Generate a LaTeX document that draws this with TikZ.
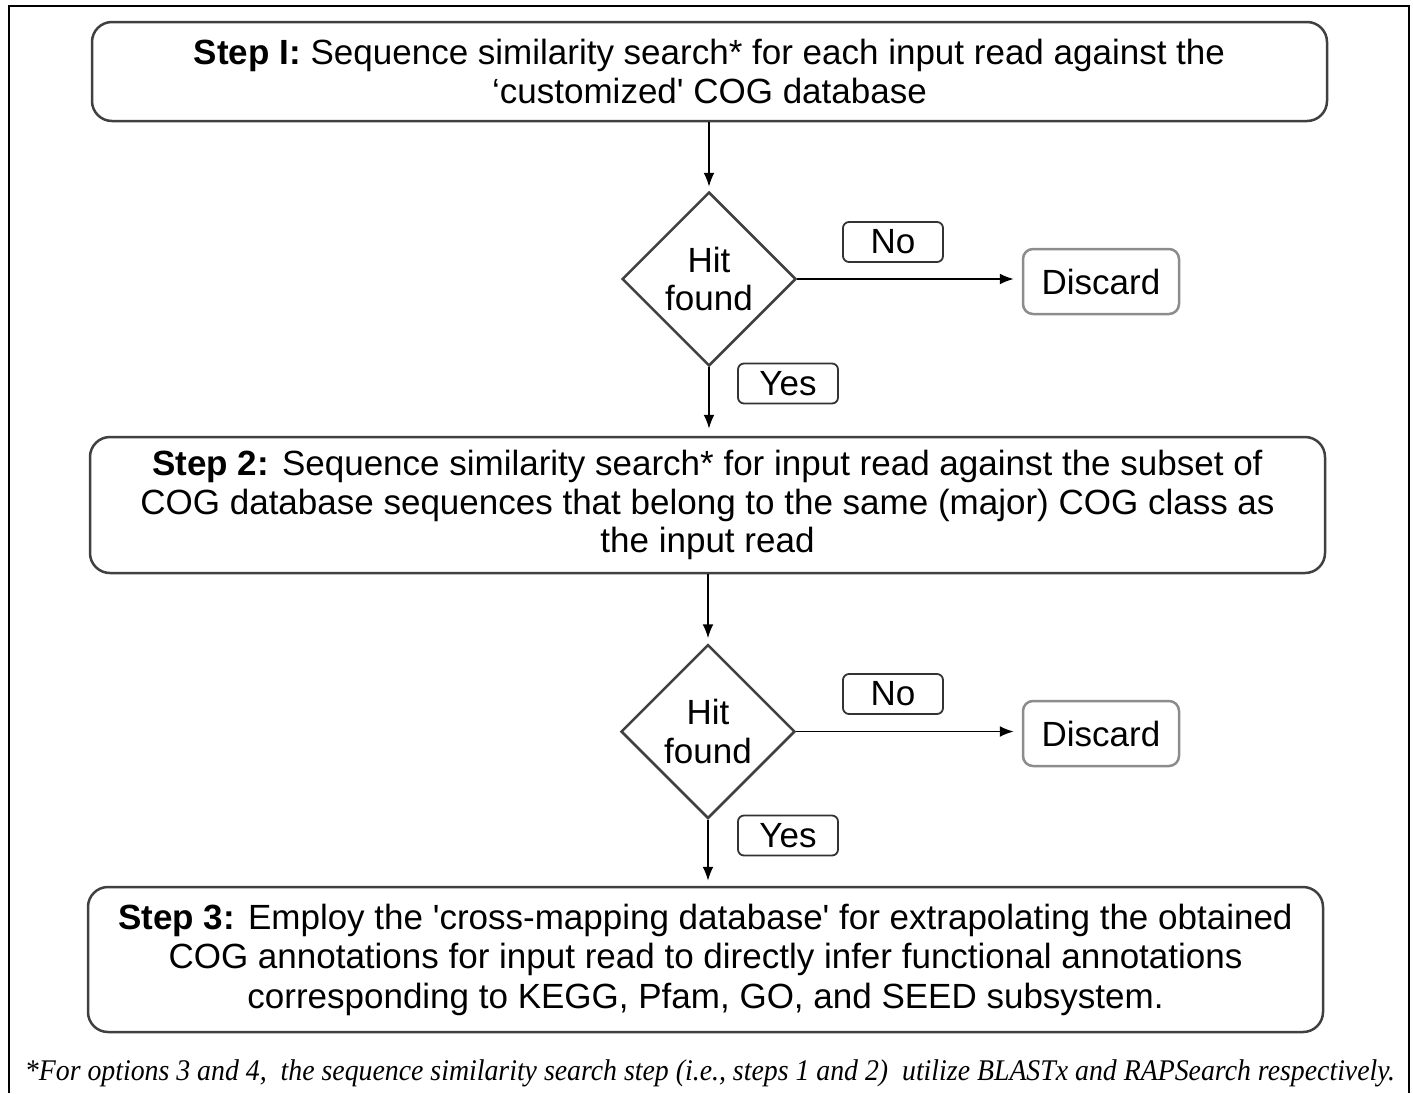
\documentclass[tikz,border=0pt]{standalone}
\usepackage{fontspec}
\setmainfont{Liberation Sans}
\newfontfamily\footfont{Liberation Serif}
\usetikzlibrary{shapes.geometric,arrows.meta}
\newcommand{\sq}{\textquotesingle}
\tikzset{
  mainfont/.style={font=\fontsize{35}{38.5}\selectfont},
  stepbox/.style={draw=black!75, line width=2.5pt, rounded corners=20pt, align=center, mainfont, minimum width=1235pt, inner sep=0pt},
  decision/.style={diamond, draw=black!75, line width=2.5pt, align=center, mainfont, minimum width=174pt, minimum height=174pt, inner sep=0pt},
  discardbox/.style={draw=black!45, line width=2.5pt, rounded corners=10pt, mainfont, minimum width=156pt, minimum height=65pt, inner sep=0pt},
  lblbox/.style={draw=black!80, line width=1.8pt, rounded corners=6pt, mainfont, minimum width=100pt, minimum height=40pt, inner sep=0pt},
  flow/.style={line width=1.8pt, -{Latex[length=14pt,width=11pt]}},
}
\begin{document}
\begin{tikzpicture}[x=1pt,y=-1pt]
\useasboundingbox (0,0) rectangle (1413,1093);
\draw[line width=2pt] (9,1093) -- (9,6) -- (1409,6) -- (1409,1093);

\node[stepbox, minimum height=99pt] (s1) at (709.5,71.5)
  {\textbf{Step I:} Sequence similarity search* for each input read against the\\ ‘customized\sq{} COG database};
\node[decision] (d1) at (709,279) {Hit\\found};
\node[discardbox] (x1) at (1101,281.5) {Discard};
\node[lblbox] (no1) at (893,242) {No};
\node[lblbox] (yes1) at (788,383.5) {Yes};

\node[stepbox, minimum height=136pt] (s2) at (707.5,505)
  {\textbf{Step 2:} Sequence similarity search* for input read against the subset of\\ COG database sequences that belong to the same (major) COG class as\\ the input read};
\node[decision] (d2) at (708,731.5) {Hit\\found};
\node[discardbox] (x2) at (1101,733.5) {Discard};
\node[lblbox] (no2) at (893,694) {No};
\node[lblbox] (yes2) at (788,835.5) {Yes};

\node[stepbox, minimum height=145pt, font=\fontsize{35}{39.5}\selectfont] (s3) at (705.5,959.5)
  {\textbf{Step 3:} Employ the \sq{}cross-mapping database\sq{} for extrapolating the obtained\\ COG annotations for input read to directly infer functional annotations\\ corresponding to KEGG, Pfam, GO, and SEED subsystem.};

\node[inner sep=0pt] (fn) at (710,1073)
  {\resizebox{1370pt}{\height}{\footfont\itshape\fontsize{30}{32}\selectfont *For options 3 and 4,\ \ the sequence similarity search step (i.e., steps 1 and 2)\ \ utilize BLASTx and RAPSearch respectively.}};

\draw[flow, shorten >=4pt] (s1.south -| d1.north) -- (d1.north);
\draw[flow, shorten >=8pt] (d1.east) -- (x1.west |- d1.east);
\draw[flow, shorten >=7pt] (d1.south) -- (d1.south |- s2.north);
\draw[flow, shorten >=5pt] (s2.south -| d2.north) -- (d2.north);
\draw[flow, shorten >=8pt] (d2.east) -- (x2.west |- d2.east);
\draw[flow, shorten >=5pt] (d2.south) -- (d2.south |- s3.north);
\end{tikzpicture}
\end{document}
